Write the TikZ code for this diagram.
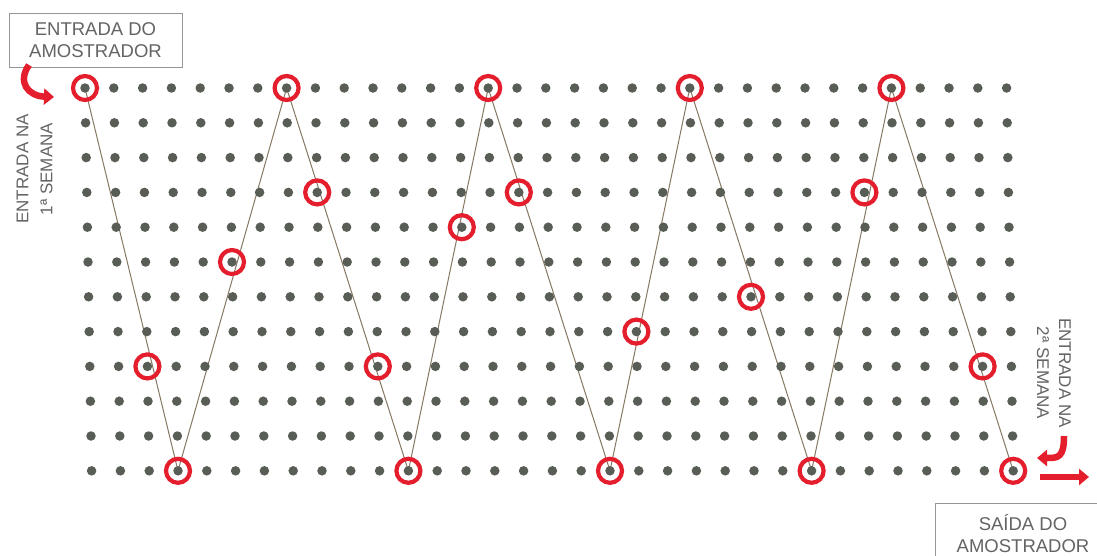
\documentclass[tikz,border=0pt]{standalone}
\usepackage{fontspec}
\setmainfont{Liberation Sans}
\usetikzlibrary{arrows.meta}
\definecolor{dot1}{RGB}{88,94,86}
\definecolor{red1}{RGB}{228,30,45}
\definecolor{line1}{RGB}{135,120,100}
\definecolor{text1}{RGB}{100,100,100}
\definecolor{box1}{RGB}{150,150,150}

\tikzset{
  dot/.style={circle, fill=dot1, inner sep=0pt, minimum size=9.5pt},
  ring/.style={circle, draw=red1, line width=4.2pt, inner sep=0pt, minimum size=24pt},
  route/.style={line1, line width=1pt},
  label1/.style={text=text1, font=\fontsize{18.5}{22}\selectfont, align=center},
  box/.style={draw=box1, line width=1pt},
  redarrow/.style={red1, line width=6.5pt, -{Triangle[length=10pt,width=16pt]}}
}

\begin{document}
\begin{tikzpicture}[x=1pt, y=-1pt]
\useasboundingbox (0,0) rectangle (1097,555);
\fill[white] (0,0) rectangle (1097,555);

% grid step
\def\DX{28.8}
\def\DY{34.8}

% ----- grid points: 12 rows x 33 columns -----
\foreach \r in {0,...,11}
  \foreach \c in {0,...,32}
    \coordinate (p\r-\c) at ({85+0.6*\r+\DX*\c},{88+\DY*\r});

% ----- zigzag route (top row <-> bottom row) -----
\draw[route] (p0-0) -- (p11-3) -- (p0-7) -- (p11-11) -- (p0-14) -- (p11-18)
  -- (p0-21) -- (p11-25) -- (p0-28) -- (p11-32);

% ----- dots -----
\foreach \r in {0,...,11}
  \foreach \c in {0,...,32}
    \node[dot] (d\r-\c) at (p\r-\c) {};

% ----- sampled points (red rings) -----
\foreach \r/\c in {0/0,0/7,0/14,0/21,0/28,
                   3/8,3/15,3/27,4/13,5/5,6/23,7/19,
                   8/2,8/10,8/31,
                   11/3,11/11,11/18,11/25,11/32}
  \node[ring] (s\r-\c) at (p\r-\c) {};

% ----- labels -----
\node[box, label1, minimum width=173pt, minimum height=54pt] (inbox) at (95.5,40) {ENTRADA DO\\AMOSTRADOR};
\node[box, label1, anchor=north west, minimum width=175pt, minimum height=60pt] (outbox) at (935,503) {SAÍDA DO\\AMOSTRADOR};
\node[label1, font=\fontsize{17}{24}\selectfont, rotate=90] (week1) at (34.5,169) {ENTRADA NA\\1ª SEMANA};
\node[label1, font=\fontsize{17}{22}\selectfont, rotate=-90] (week2) at (1054,373) {ENTRADA NA\\2ª SEMANA};

% ----- red arrows -----
\draw[redarrow] (29,65) .. controls (17,82) and (28,96) .. (54,97);
\draw[redarrow] (1064,436) .. controls (1064,458) and (1058,458) .. (1037,458);
\draw[redarrow] (1040,477) -- (1089,477);

\end{tikzpicture}
\end{document}
